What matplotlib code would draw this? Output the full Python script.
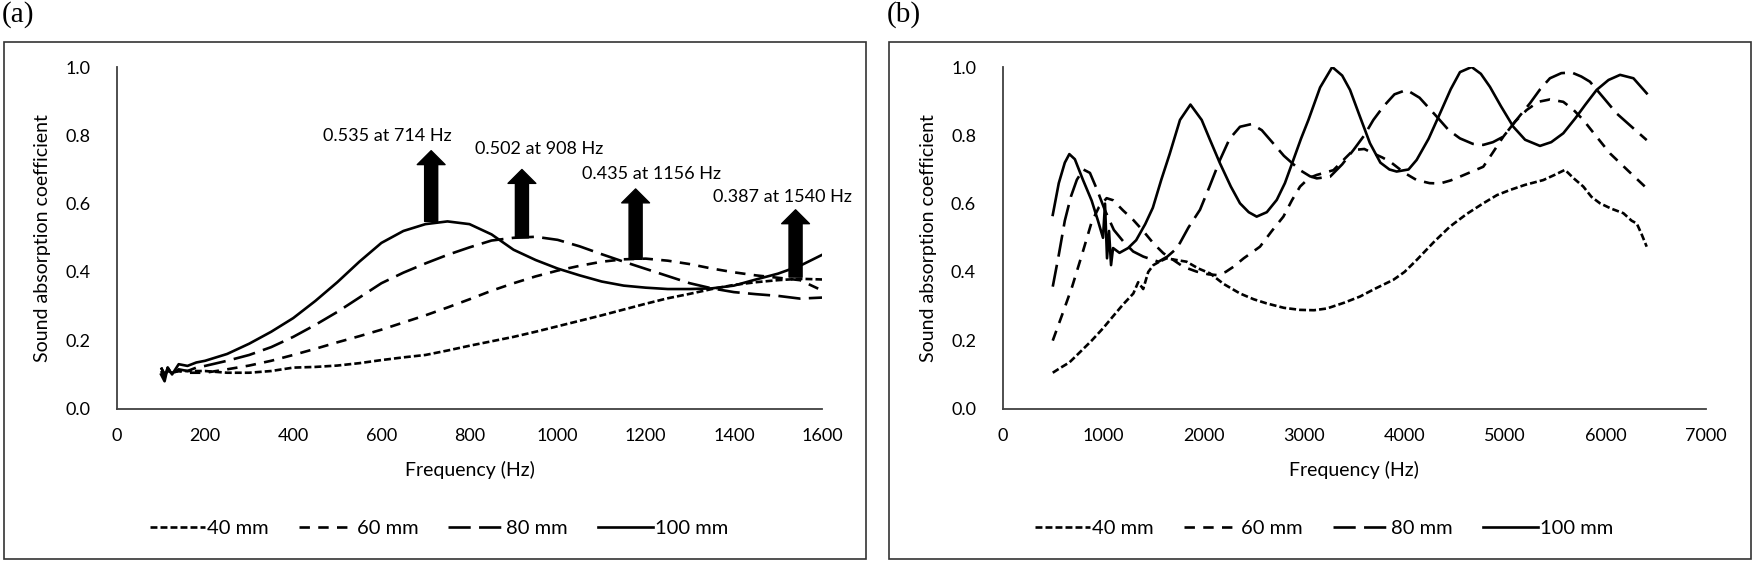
import matplotlib
matplotlib.use("Agg")
import matplotlib.pyplot as plt
from matplotlib.patches import Rectangle

plt.rcParams['font.family'] = ['Lato', 'DejaVu Sans']
plt.rcParams['lines.scale_dashes'] = False

''' DATA '''

labels = ['40 mm', '60 mm', '80 mm', '100 mm']

# panel (a): low frequency range
freq_a = [100, 108, 115, 125, 140, 160, 180, 200, 250, 300, 350, 400, 450, 500, 550, 600,
          650, 700, 750, 800, 850, 900, 950, 1000, 1050, 1100, 1150, 1200, 1250, 1300,
          1350, 1400, 1450, 1500, 1550, 1600]
a_40 = [0.12, 0.10, 0.11, 0.105, 0.11, 0.11, 0.11, 0.11, 0.105, 0.105, 0.11, 0.12, 0.122,
        0.126, 0.133, 0.142, 0.15, 0.157, 0.17, 0.184, 0.197, 0.21, 0.225, 0.241, 0.257,
        0.273, 0.29, 0.307, 0.323, 0.336, 0.35, 0.362, 0.37, 0.376, 0.38, 0.378]
a_60 = [0.12, 0.10, 0.115, 0.105, 0.11, 0.105, 0.105, 0.105, 0.115, 0.126, 0.14, 0.157,
        0.175, 0.194, 0.212, 0.231, 0.252, 0.273, 0.296, 0.32, 0.345, 0.367, 0.387, 0.404,
        0.418, 0.43, 0.437, 0.439, 0.433, 0.423, 0.41, 0.399, 0.39, 0.383, 0.376, 0.346]
a_80 = [0.11, 0.09, 0.12, 0.10, 0.115, 0.11, 0.12, 0.125, 0.14, 0.157, 0.18, 0.21, 0.245,
        0.283, 0.325, 0.367, 0.398, 0.425, 0.45, 0.472, 0.492, 0.50, 0.503, 0.494, 0.475,
        0.452, 0.43, 0.409, 0.388, 0.367, 0.352, 0.341, 0.335, 0.33, 0.322, 0.325]
a_100 = [0.10, 0.08, 0.12, 0.10, 0.13, 0.125, 0.135, 0.14, 0.16, 0.19, 0.225, 0.265, 0.315,
         0.37, 0.43, 0.485, 0.52, 0.54, 0.548, 0.54, 0.51, 0.465, 0.435, 0.41, 0.39, 0.372,
         0.36, 0.354, 0.35, 0.35, 0.352, 0.36, 0.378, 0.395, 0.418, 0.45]

# peak markers in panel (a)
peak_text = ['0.535 at 714 Hz', '0.502 at 908 Hz', '0.435 at 1156 Hz', '0.387 at 1540 Hz']
text_x = [613, 957, 1212, 1511]
text_y = [0.797, 0.761, 0.687, 0.619]
arrow_x = [713, 919, 1177, 1540]
arrow_base = [0.548, 0.50, 0.437, 0.385]
arrow_top = [0.755, 0.70, 0.643, 0.582]

# panel (b): high frequency range
f_40 = [500, 580, 665, 770, 887, 1000, 1108, 1200, 1302, 1350, 1400, 1450, 1501, 1560, 1633,
        1730, 1832, 1950, 2064, 2200, 2363, 2500, 2628, 2800, 2961, 3100, 3227, 3400, 3557,
        3700, 3889, 4000, 4121, 4300, 4453, 4620, 4784, 4920, 5050, 5200, 5381, 5500, 5597,
        5680, 5779, 5860, 5945, 6060, 6178, 6260, 6311, 6360, 6410]
b_40 = [0.105, 0.12, 0.135, 0.165, 0.199, 0.235, 0.273, 0.305, 0.337, 0.37, 0.35, 0.40,
        0.42, 0.43, 0.44, 0.435, 0.43, 0.41, 0.396, 0.365, 0.337, 0.32, 0.308, 0.295, 0.289,
        0.288, 0.293, 0.31, 0.328, 0.35, 0.377, 0.40, 0.435, 0.49, 0.533, 0.57, 0.601, 0.625,
        0.64, 0.655, 0.669, 0.685, 0.699, 0.675, 0.65, 0.62, 0.601, 0.585, 0.572, 0.55, 0.542,
        0.51, 0.474]
f_60 = [500, 600, 693, 790, 887, 960, 1036, 1100, 1200, 1302, 1400, 1501, 1600, 1700, 1800,
        1932, 2050, 2130, 2220, 2297, 2400, 2562, 2680, 2795, 2880, 2961, 3050, 3127, 3200,
        3293, 3400, 3492, 3600, 3690, 3780, 3856, 4000, 4121, 4250, 4353, 4460, 4552, 4680,
        4784, 4880, 4983, 5100, 5215, 5330, 5447, 5580, 5680, 5779, 5900, 6045, 6230, 6410]
b_60 = [0.199, 0.28, 0.357, 0.45, 0.546, 0.59, 0.616, 0.61, 0.58, 0.552, 0.52, 0.484, 0.455,
        0.435, 0.415, 0.401, 0.393, 0.391, 0.40, 0.415, 0.44, 0.474, 0.52, 0.562, 0.61, 0.65,
        0.675, 0.684, 0.69, 0.698, 0.73, 0.757, 0.76, 0.747, 0.735, 0.723, 0.69, 0.669, 0.66,
        0.659, 0.668, 0.679, 0.695, 0.708, 0.75, 0.796, 0.84, 0.874, 0.898, 0.905, 0.898,
        0.875, 0.845, 0.80, 0.747, 0.695, 0.645]
f_80 = [500, 560, 620, 680, 740, 804, 870, 942, 1020, 1108, 1200, 1300, 1401, 1552, 1640, 1718,
        1766, 1850, 1965, 2060, 2164, 2260, 2363, 2479, 2580, 2695, 2800, 2961, 3060, 3127,
        3260, 3380, 3492, 3600, 3690, 3789, 3900, 4021, 4150, 4320, 4440, 4552, 4680, 4784,
        4880, 4983, 5100, 5249, 5350, 5447, 5560, 5663, 5760, 5845, 5980, 6111, 6260, 6410]
b_80 = [0.357, 0.45, 0.55, 0.62, 0.67, 0.70, 0.69, 0.64, 0.58, 0.523, 0.49, 0.46, 0.445, 0.43,
        0.445, 0.465, 0.485, 0.53, 0.582, 0.65, 0.728, 0.79, 0.825, 0.833, 0.815, 0.776, 0.74,
        0.698, 0.68, 0.674, 0.679, 0.715, 0.757, 0.80, 0.845, 0.884, 0.92, 0.933, 0.91, 0.855,
        0.815, 0.791, 0.775, 0.772, 0.78, 0.796, 0.84, 0.894, 0.935, 0.967, 0.982, 0.984,
        0.972, 0.957, 0.91, 0.864, 0.825, 0.786]
f_100 = [500, 560, 620, 665, 720, 800, 887, 950, 1000, 1020, 1040, 1060, 1080, 1100, 1164, 1250,
         1330, 1420, 1496, 1580, 1663, 1766, 1870, 1982, 2060, 2164, 2272, 2363, 2450, 2529,
         2630, 2729, 2810, 2894, 2970, 3044, 3160, 3281, 3380, 3458, 3550, 3656, 3760, 3850,
         3922, 4040, 4121, 4240, 4353, 4460, 4552, 4668, 4760, 4850, 4960, 5083, 5200, 5348,
         5460, 5580, 5700, 5800, 5912, 6030, 6145, 6278, 6410]
b_100 = [0.567, 0.66, 0.72, 0.745, 0.73, 0.67, 0.609, 0.55, 0.50, 0.60, 0.44, 0.52, 0.42, 0.47,
         0.456, 0.47, 0.493, 0.54, 0.588, 0.67, 0.745, 0.845, 0.89, 0.845, 0.79, 0.718, 0.65,
         0.601, 0.575, 0.562, 0.575, 0.611, 0.66, 0.728, 0.79, 0.845, 0.94, 1.0, 0.975, 0.933,
         0.86, 0.777, 0.72, 0.70, 0.694, 0.70, 0.728, 0.79, 0.864, 0.935, 0.985, 1.0, 0.98,
         0.942, 0.885, 0.825, 0.787, 0.769, 0.78, 0.806, 0.85, 0.89, 0.933, 0.962, 0.977, 0.967,
         0.923]

''' PLOTTING '''

lw = 1.9
line_styles = [(0, (5, 2.2)), (0, (7.5, 6)), (0, (16, 6)), '-']

W, H = 1753, 562
fig = plt.figure(figsize=(W / 100, H / 100), dpi=100)

ax_a = fig.add_axes([117 / W, 1 - 408.6 / H, 705 / W, 341.6 / H])
ax_b = fig.add_axes([1002.5 / W, 1 - 408.6 / H, 703.5 / W, 341.6 / H])

series_a = [a_40, a_60, a_80, a_100]
for vals, lab, ls in zip(series_a, labels, line_styles):
    ax_a.plot(freq_a, vals, color='black', lw=lw, ls=ls, label=lab)

series_b = [(f_40, b_40), (f_60, b_60), (f_80, b_80), (f_100, b_100)]
for (fx, vals), lab, ls in zip(series_b, labels, line_styles):
    ax_b.plot(fx, vals, color='black', lw=lw, ls=ls, label=lab)

# arrows and peak labels
for t, tx, ty, ax_, b_, t_ in zip(peak_text, text_x, text_y, arrow_x, arrow_base, arrow_top):
    ax_a.annotate('', xy=(ax_, t_), xytext=(ax_, b_),
                  arrowprops=dict(arrowstyle='simple,head_length=0.5,head_width=1.0,tail_width=0.47',
                                  fc='black', ec='black', mutation_scale=20,
                                  shrinkA=0, shrinkB=0))
    ax_a.text(tx, ty, t, ha='center', va='center', fontsize=13)

for ax, xmax, xstep in [(ax_a, 1600, 200), (ax_b, 7000, 1000)]:
    ax.set_xlim(0, xmax)
    ax.set_ylim(0, 1.0)
    ax.set_xticks(range(0, xmax + 1, xstep))
    ax.set_yticks([0.0, 0.2, 0.4, 0.6, 0.8, 1.0])
    ax.set_yticklabels(['0.0', '0.2', '0.4', '0.6', '0.8', '1.0'])
    ax.tick_params(length=0, labelsize=13, pad=0)
    ax.tick_params(axis='y', pad=19)
    ax.tick_params(axis='x', pad=14)
    for s in ['top', 'right']:
        ax.spines[s].set_visible(False)
    for s in ['left', 'bottom']:
        ax.spines[s].set_color('#404040')
        ax.spines[s].set_linewidth(1.3)
    ax.set_xlabel('Frequency (Hz)', fontsize=14)
    ax.xaxis.set_label_coords(0.5, -0.18)
    ax.xaxis.label.set_va('center')
    ax.set_ylabel('Sound absorption coefficient', fontsize=14)
    ax.yaxis.set_label_coords(-0.105, 0.5)
    ax.yaxis.label.set_va('center')
    ax.legend(loc='center', bbox_to_anchor=(0.457, -0.35), ncol=4, frameon=False,
              fontsize=14.5, handlelength=2.75, handletextpad=0.1, columnspacing=1.5)

# panel frames and labels
for x0, x1, tag in [(4, 866, '(a)'), (889, 1751, '(b)')]:
    fig.add_artist(Rectangle((x0 / W, 1 - 559 / H), (x1 - x0) / W, (559 - 42) / H,
                             transform=fig.transFigure, fill=False, ec='#333333', lw=1.2))
    fig.text((x0 - 2) / W, 1 - 15 / H, tag, family='Liberation Serif', fontsize=21,
             ha='left', va='center')

fig.savefig('out.png', dpi=100)
